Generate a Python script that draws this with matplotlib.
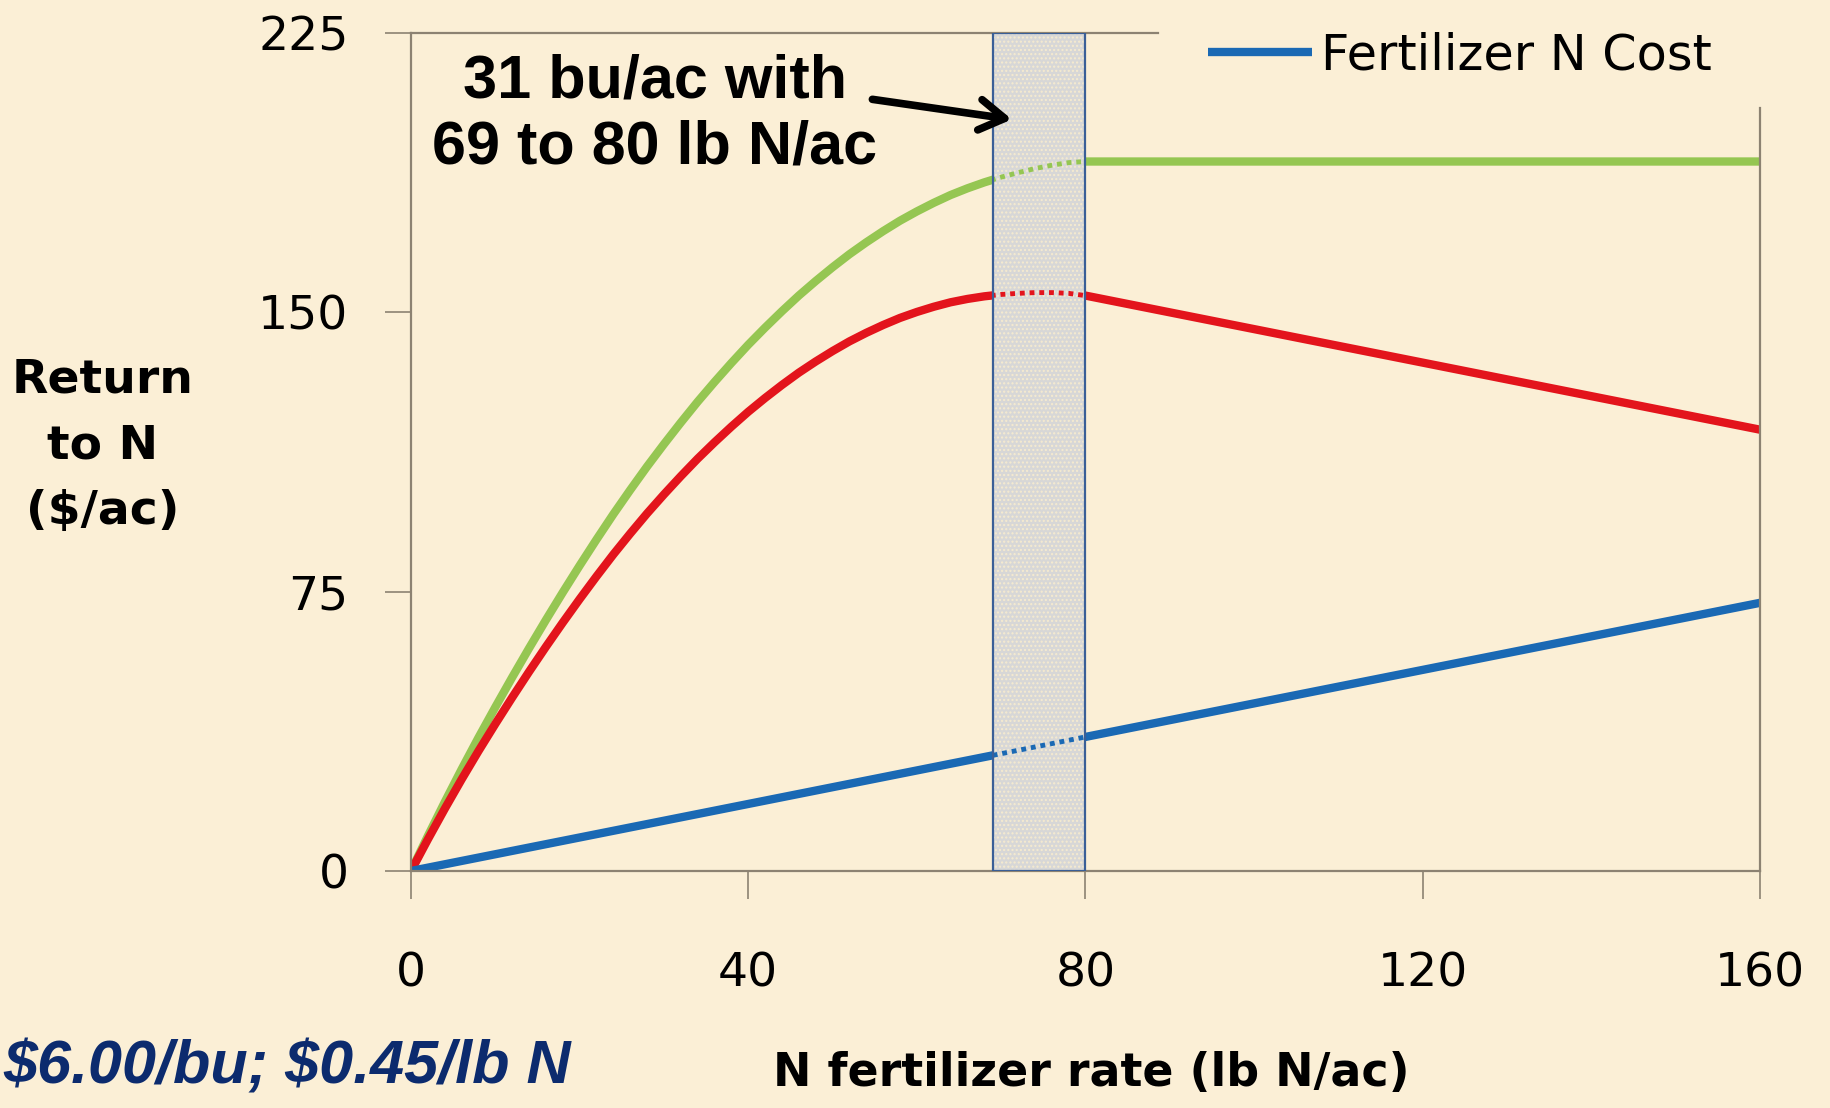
import matplotlib
matplotlib.use("Agg")
import matplotlib.pyplot as plt
from matplotlib.patches import Rectangle

# N rate (lb N/ac) and returns ($/ac)
n_rate = list(range(0, 81, 2)) + [160]
gross_return = [0, 9.4, 18.5, 27.3, 35.8, 44.0, 52.0, 59.8, 67.4, 74.8, 82.0, 89.0, 95.8,
                102.3, 108.6, 114.6, 120.4, 126.0, 131.3, 136.4, 141.3, 145.9, 150.3, 154.5,
                158.4, 162.1, 165.6, 168.8, 171.8, 174.6, 177.1, 179.4, 181.5, 183.3, 184.9,
                186.3, 187.5, 188.6, 189.5, 190.2, 190.5, 190.5]
net_return = [0, 8.5, 16.7, 24.6, 32.2, 39.5, 46.6, 53.5, 60.2, 66.7, 73.0, 79.1, 85.0,
              90.6, 96.0, 101.1, 106.0, 110.7, 115.1, 119.3, 123.3, 127.0, 130.5, 133.8,
              136.8, 139.6, 142.2, 144.5, 146.6, 148.5, 150.1, 151.5, 152.7, 153.6, 154.3,
              154.8, 155.1, 155.3, 155.3, 155.1, 154.5, 118.5]
cost_rate = [0, 160]
n_cost = [0, 72]

band = (69, 80)
x_ticks = [0, 40, 80, 120, 160]
y_ticks = [0, 75, 150, 225]

bg = '#FBEFD6'
axis_col = '#8C8272'
green = '#95C652'
red = '#E3141C'
blue = '#1A69B4'

fig = plt.figure(figsize=(18.3, 11.08), dpi=100, facecolor=bg)
ax = fig.add_axes([0.2246, 0.2139, 0.7371, 0.7563])
ax.set_facecolor(bg)

lines = []
lines += ax.plot(n_rate, gross_return, color=green, lw=6, solid_capstyle='butt', zorder=2)
lines += ax.plot(n_rate, net_return, color=red, lw=6, solid_capstyle='butt', zorder=2)
lines += ax.plot(cost_rate, n_cost, color=blue, lw=6, solid_capstyle='butt', zorder=2,
                 label='Fertilizer N Cost')

# shaded optimum range
fill = Rectangle((band[0], 0), band[1] - band[0], 225, facecolor='#D7D7D7',
                 edgecolor='#F6EBCF', lw=0, hatch='....', zorder=3)
ax.add_patch(fill)
for ln in lines:
    seg, = ax.plot(ln.get_xdata(), ln.get_ydata(), color=ln.get_color(), lw=3.5,
                   linestyle=(0, (1, 1)), zorder=4)
    seg.set_clip_path(fill)
ax.add_patch(Rectangle((band[0], 0), band[1] - band[0], 225, fill=False,
                       edgecolor='#3A5F97', lw=1.6, zorder=5))

ax.set_xlim(0, 160)
ax.set_ylim(0, 225)
ax.set_xticks(x_ticks)
ax.set_yticks(y_ticks)
ax.tick_params(axis='x', direction='out', length=20, width=1.2, color=axis_col,
               pad=38, labelsize=34)
ax.tick_params(axis='y', direction='out', length=19, width=1.2, color=axis_col,
               pad=26, labelsize=34)
for s in ax.spines.values():
    s.set_color(axis_col)
    s.set_linewidth(1.6)
ax.spines['top'].set_bounds(0, 88.6)
ax.spines['right'].set_bounds(0, 205)

ax.set_xlabel('N fertilizer rate (lb N/ac)', fontsize=33, fontweight='bold', va='center')
ax.xaxis.set_label_coords(0.504, -0.242)

fig.text(103 / 1830, 1 - 446 / 1108, 'Return\nto N\n($/ac)', ha='center', va='center',
         fontsize=34, fontweight='bold', linespacing=1.6)

ax.text(28.9, 203, '31 bu/ac with\n69 to 80 lb N/ac', ha='center', va='center',
        fontsize=44, fontweight='bold', family=['Liberation Sans', 'DejaVu Sans'],
        linespacing=1.22, zorder=6)
ax.annotate('', xy=(71.6, 201.7), xytext=(54.4, 207.3),
            arrowprops=dict(arrowstyle='->,head_length=0.9,head_width=0.55', lw=5.5,
                            color='black', mutation_scale=20), zorder=6)

ax.legend(loc='center left', bbox_to_anchor=(1208 / 1830, 1 - 55 / 1108),
          bbox_transform=fig.transFigure, frameon=False, fontsize=35.5,
          handlelength=2.1, handletextpad=0.2, borderpad=0, borderaxespad=0)

fig.text(0.002, 1 - 1068 / 1108, r'\$6.00/bu; \$0.45/lb N', ha='left', va='center',
         fontsize=44, fontweight='bold', style='italic', color='#0C2B6E',
         family=['Liberation Sans', 'DejaVu Sans'])

fig.savefig('out.png', dpi=100, facecolor=bg)
